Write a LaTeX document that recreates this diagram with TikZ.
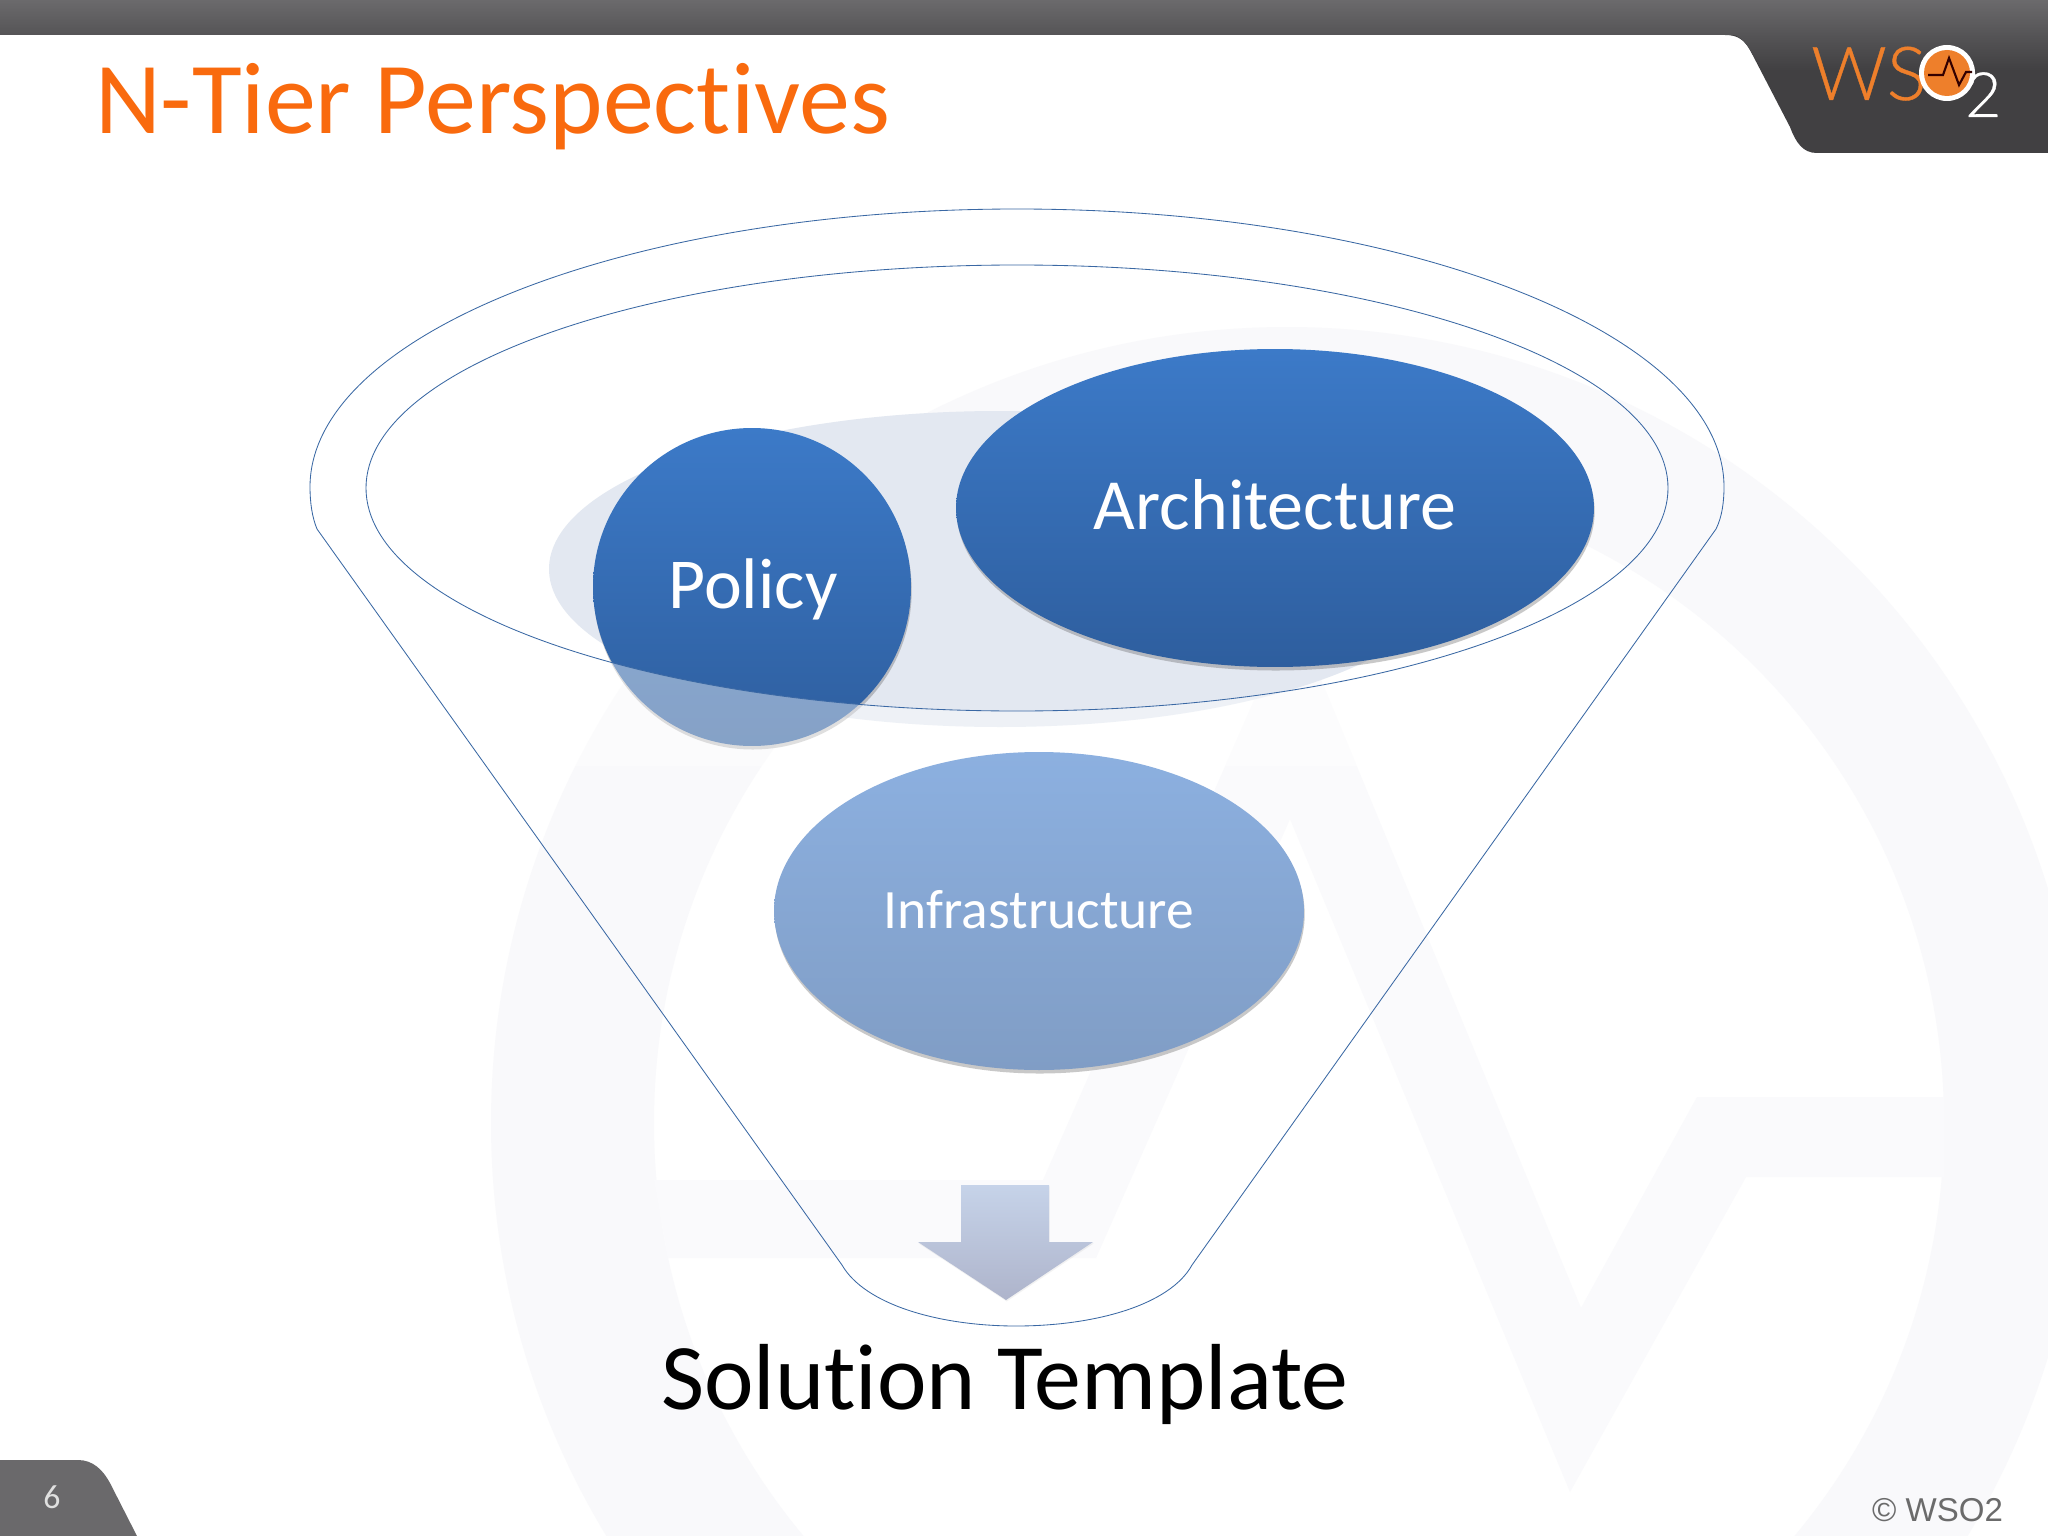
\documentclass[tikz,border=0pt]{standalone}
\usepackage{fontspec}
\setmainfont[Ligatures=NoCommon]{Carlito}
\newfontfamily\arialfont{Liberation Sans}
\newfontfamily\logofont[FakeBold=0.5]{Lato Light}
\usetikzlibrary{shadows,shapes.geometric}
\definecolor{titleorange}{HTML}{F96A0E}
\definecolor{funnelblue}{HTML}{3A68A4}
\definecolor{wm}{HTML}{F9F9FB}
\definecolor{wmlight}{HTML}{FAFAFC}
\definecolor{ghost}{HTML}{E3E8F1}
\definecolor{darkbar}{HTML}{414042}
\definecolor{midbar}{HTML}{555456}
\definecolor{topbar}{HTML}{6B6A6C}
\definecolor{footgrey}{HTML}{6A696B}
\definecolor{logoorange}{HTML}{EE7F2B}
\definecolor{bluetop}{RGB}{60,122,200}
\definecolor{bluebot}{RGB}{46,94,158}
\definecolor{lighttop}{RGB}{140,176,224}
\definecolor{lightbot}{RGB}{128,157,197}
\definecolor{arrowtop}{RGB}{198,211,233}
\definecolor{arrowbot}{RGB}{174,180,203}
\tikzset{
  x=0.05cm,y=-0.05cm,
  funnelline/.style={draw=funnelblue,line width=1.2pt},
  softshadow/.style={drop shadow={shadow xshift=1pt,shadow yshift=-5pt,opacity=.3,fill=black!70}},
  blob/.style={ellipse,inner sep=0pt,softshadow},
  darkblob/.style={blob,top color=bluetop,bottom color=bluebot},
  lightblob/.style={blob,top color=lighttop,bottom color=lightbot},
  blobtext/.style={text=white,anchor=base,inner sep=0pt},
}
\begin{document}
\begin{tikzpicture}
\useasboundingbox (0,0) rectangle (2048,1536);
\fill[white] (0,0) rectangle (2048,1536);
% watermark
\fill[wm,even odd rule] (1287,1123) circle [radius=796] (1299,1123) circle [radius=645];
\fill[wmlight] (654,1180) -- (1043,1180) -- (1293,612) -- (1581,1308) -- (1697,1097) -- (1944,1097)
  -- (1944,1177) -- (1746,1177) -- (1570,1492) -- (1290,819) -- (1096,1258) -- (668,1258) -- cycle;
% ghost ellipse
\fill[ghost] (1000,569) ellipse [x radius=451,y radius=158];
% top bar
\fill[darkbar] (0,0) -- (2048,0) -- (2048,153) -- (1817,153) .. controls (1803,153) and (1796,143) .. (1790,127)
  -- (1750,50) .. controls (1744,40) and (1738,35) .. (1725,35) -- (0,35) -- cycle;
\shade[top color=topbar,bottom color=midbar] (0,0) rectangle (2048,35);
\shade[top color=midbar,bottom color=darkbar] (1735,35) -- (2048,35) -- (2048,70) -- (1762,70) -- (1750,50) .. controls (1746,43) and (1742,38) .. (1735,35) -- cycle;
% logo
\node[font=\logofont\fontsize{106}{106}\selectfont,text=logoorange,anchor=base west,inner sep=0pt] (logows) at (1811,100) {WS};
\fill[white] (1947,73) circle (28);
\fill[logoorange] (1947,73) circle (23);
\draw[black!80!red,line width=3pt] (1928,75) -- (1943,75) -- (1949,58) -- (1959,85) -- (1966,72) -- (1972,72);
\node[font=\logofont\fontsize{89}{89}\selectfont,text=white,anchor=base west,inner sep=0pt] (logotwo) at (1965,117) {2};
% title
\node[font=\fontsize{145}{145}\selectfont,text=titleorange,anchor=base west,inner sep=0pt] (title) at (95,134) {N-Tier Perspectives};
% shapes
\node[darkblob,minimum width=907.6pt,minimum height=452.4pt] (arch) at (1275,508) {};
\node[darkblob,minimum width=452.4pt,minimum height=452.4pt] (policy) at (752,587) {};
% lighter outside the inner ring
\begin{scope}
  \clip (530,640) rectangle (1400,765);
  \fill[white,opacity=.42,even odd rule] (400,400) rectangle (1500,800) (1017,488) ellipse [x radius=651,y radius=223];
\end{scope}
\node[lightblob,minimum width=754pt,minimum height=452.4pt] (infra) at (1039,911) {};
\shade[top color=arrowtop,bottom color=arrowbot,drop shadow={opacity=.1,shadow xshift=1pt,shadow yshift=-2pt}] (961,1185) -- (1049,1185) -- (1049,1242) -- (1093,1242) -- (1006,1300) -- (918,1242) -- (961,1242) -- cycle;
\node[blobtext,font=\fontsize{102.5}{102.5}\selectfont] (archlabel) at (1275,529) {Architecture};
\node[blobtext,font=\fontsize{102}{102}\selectfont] (policylabel) at (753,608) {Policy};
\node[blobtext,font=\fontsize{79}{79}\selectfont] (infralabel) at (1039,928) {Infrastructure};
% funnel
\draw[funnelline] (317,529) .. controls (312,517) and (310,502) .. (310,487)
  .. controls (310,334) and (627,209) .. (1017,209)
  .. controls (1407,209) and (1724,334) .. (1724,487)
  .. controls (1724,502) and (1722,517) .. (1716,529)
  -- (1192,1265) .. controls (1170,1305) and (1095,1326) .. (1016,1326)
  .. controls (940,1326) and (865,1305) .. (842,1265) -- cycle;
\draw[funnelline] (1017,488) ellipse [x radius=651,y radius=223];
\node[font=\fontsize{133.5}{133.5}\selectfont,text=black,anchor=base,inner sep=0pt] (sol) at (1005,1409) {Solution Template};
% footer
\fill[footgrey] (0,1460) -- (78,1460) .. controls (93,1460) and (103,1470) .. (110,1483) -- (137,1536) -- (0,1536) -- cycle;
\node[font=\fontsize{48}{48}\selectfont,text=black!12,inner sep=0pt] (pagenum) at (52,1497) {6};
\node[font=\arialfont\fontsize{47}{47}\selectfont,text=black!58,anchor=base east,inner sep=0pt] (copy) at (2003,1521) {© WSO2};
\end{tikzpicture}
\end{document}
